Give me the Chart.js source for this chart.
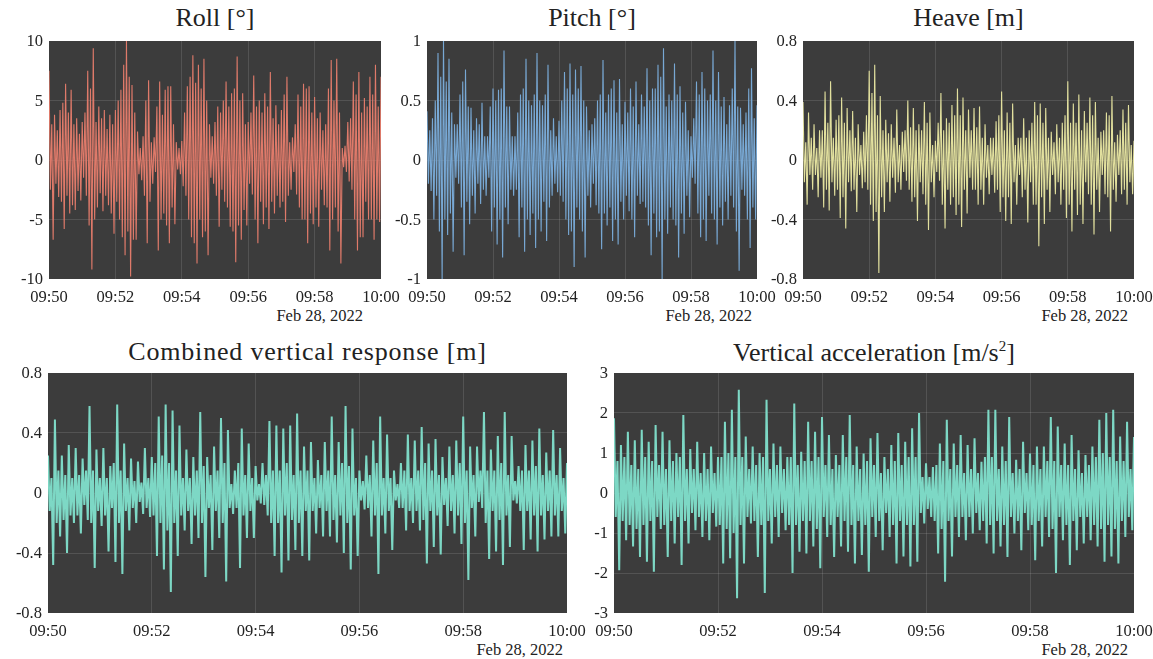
<!DOCTYPE html>
<html>
<head>
<meta charset="utf-8">
<script src="https://cdn.jsdelivr.net/npm/chart.js@4.4.0/dist/chart.umd.min.js"></script>
<style>
  html, body { margin: 0; padding: 0; background: #fff; overflow: hidden; }
  #page { position: relative; width: 1153px; height: 659px; font-family: "Liberation Serif", serif; color: #222; }
  .title { position: absolute; font-size: 26px; white-space: nowrap; transform: translateX(-50%); line-height: 1; }
  .date { position: absolute; font-size: 16.5px; white-space: nowrap; line-height: 1; transform: translateX(-100%); }
  .tick { position: absolute; font-size: 16.5px; white-space: nowrap; line-height: 1; }
  .xt { transform: translateX(-50%); }
  .yt { transform: translateX(-100%); }
  canvas { position: absolute; }
</style>
</head>
<body>
<div id="page"></div>
<script>
// time axis: seconds after 09:50, ticks every 2 minutes
const timeLabels = ['09:50', '09:52', '09:54', '09:56', '09:58', '10:00'];
const dateLabel = 'Feb 28, 2022';

// top row: one value every 2.5 s
const rollValues = [
  7.5, -2.5, 3.0, -6.7, 3.8, -2.0, 2.5, -3.1, 4.2, -3.5, 4.8, -5.8, 6.4, -3.0, 4.0, -4.5,
  5.9, -3.8, 3.0, -4.2, 3.5, -2.6, 2.2, -3.4, 3.2, -1.5, 4.0, -3.0, 7.5, -5.5, 6.0, -9.2,
  9.4, -5.0, 3.2, -4.0, 4.5, -2.8, 3.5, -4.3, 4.2, -3.0, 2.6, -3.8, 3.8, -4.5, 3.0, -6.2,
  4.2, -3.5, 5.0, -5.0, 5.9, -6.5, 8.0, -8.0, 10, -6.0, 7.0, -9.8, 6.3, -6.7, 4.0, -6.7,
  2.4, -1.2, 1.0, -1.7, 2.0, -3.0, 5.0, -7.0, 6.7, -3.5, 1.5, -2.0, 1.9, -1.0, 4.5, -7.6,
  6.6, -5.0, 3.8, -4.5, 5.9, -5.5, 6.2, -7.0, 6.2, -4.0, 3.0, -5.4, 1.5, -0.8, 1.0, -1.2,
  1.6, -2.2, 4.0, -3.0, 6.2, -5.0, 7.0, -6.5, 8.8, -7.0, 6.5, -8.7, 8.0, -5.0, 6.0, -6.5,
  8.5, -6.0, 5.0, -8.0, 3.0, -1.5, 2.0, -2.0, 3.2, -3.0, 4.5, -5.6, 4.0, -2.5, 5.0, -3.5,
  6.6, -4.0, 4.5, -5.6, 5.6, -6.0, 6.0, -8.6, 8.7, -5.5, 5.0, -6.7, 5.6, -4.2, 3.0, -5.5,
  3.2, -2.0, 4.0, -2.9, 7.1, -5.0, 4.5, -7.0, 5.0, -3.5, 4.0, -5.4, 5.6, -4.0, 4.5, -5.8,
  7.4, -3.5, 3.5, -4.5, 4.6, -3.0, 3.0, -4.0, 4.2, -3.5, 5.5, -5.2, 7.0, -3.0, 1.5, -2.5,
  1.9, -1.0, 3.0, -2.9, 5.5, -4.0, 4.5, -5.0, 6.4, -5.0, 6.0, -7.0, 6.2, -4.5, 4.0, -5.4,
  5.3, -4.0, 3.5, -5.6, 4.0, -2.5, 2.5, -3.8, 3.0, -4.0, 6.0, -7.6, 8.4, -5.0, 5.0, -4.0,
  8.5, -6.0, 4.0, -8.7, 1.0, -0.6, 1.2, -1.0, 3.2, -1.8, 3.5, -2.5, 6.6, -5.0, 5.5, -7.6,
  7.4, -6.5, 4.0, -6.5, 5.2, -3.5, 4.5, -5.0, 7.0, -5.0, 5.5, -6.7, 8.0, -5.0, 4.5, -5.2,
  7.0
];
const pitchValues = [
  0.41, -0.2, 0.25, -0.26, 0.35, -0.5, 0.5, -0.3, 0.9, -0.6, 0.7, -1.0, 1.0, -0.5, 0.66, -0.63,
  0.85, -0.45, 0.4, -0.77, 0.3, -0.15, 0.3, -0.2, 0.55, -0.4, 0.66, -0.8, 0.76, -0.35, 0.45, -0.54,
  0.44, -0.3, 0.25, -0.45, 0.35, -0.2, 0.3, -0.37, 0.48, -0.25, 0.2, -0.3, 0.2, -0.15, 0.45, -0.6,
  0.6, -0.4, 0.5, -0.71, 0.59, -0.5, 0.6, -0.82, 0.92, -0.4, 0.45, -0.54, 0.45, -0.25, 0.2, -0.3,
  0.2, -0.25, 0.4, -0.65, 0.55, -0.4, 0.6, -0.77, 0.85, -0.5, 0.5, -0.63, 0.46, -0.45, 0.55, -0.74,
  0.9, -0.5, 0.5, -0.6, 0.46, -0.35, 0.55, -0.68, 0.8, -0.4, 0.25, -0.3, 0.35, -0.2, 0.2, -0.27,
  0.33, -0.3, 0.5, -0.35, 0.74, -0.5, 0.6, -0.63, 0.81, -0.6, 0.55, -0.9, 0.76, -0.4, 0.6, -0.5,
  0.79, -0.6, 0.5, -0.82, 0.45, -0.3, 0.25, -0.4, 0.3, -0.2, 0.35, -0.38, 0.5, -0.45, 0.55, -0.75,
  0.84, -0.45, 0.4, -0.55, 0.55, -0.4, 0.6, -0.68, 0.67, -0.5, 0.4, -0.71, 0.68, -0.35, 0.3, -0.5,
  0.49, -0.3, 0.4, -0.43, 0.6, -0.5, 0.45, -0.65, 0.66, -0.3, 0.3, -0.37, 0.55, -0.35, 0.45, -0.4,
  0.77, -0.55, 0.5, -0.8, 0.6, -0.45, 0.6, -0.65, 0.8, -0.6, 0.7, -1.0, 0.94, -0.5, 0.45, -0.62,
  0.55, -0.4, 0.5, -0.5, 0.81, -0.55, 0.55, -0.82, 0.62, -0.45, 0.4, -0.62, 0.49, -0.3, 0.25, -0.48,
  0.2, -0.15, 0.35, -0.2, 0.66, -0.45, 0.55, -0.65, 0.74, -0.5, 0.6, -0.68, 0.5, -0.3, 0.55, -0.45,
  0.92, -0.5, 0.5, -0.71, 0.74, -0.4, 0.45, -0.55, 0.53, -0.35, 0.3, -0.5, 0.46, -0.3, 0.6, -0.4,
  1.0, -0.6, 0.45, -0.93, 0.44, -0.25, 0.3, -0.3, 0.4, -0.5, 0.6, -0.74, 0.77, -0.4, 0.35, -0.5,
  0.46
];
const heaveValues = [
  0.39, -0.15, 0.12, -0.3, 0.32, -0.1, 0.15, -0.2, 0.24, -0.1, 0.08, -0.25, 0.2, -0.12, 0.2, -0.32,
  0.46, -0.2, 0.25, -0.34, 0.53, -0.15, 0.15, -0.24, 0.27, -0.2, 0.3, -0.39, 0.42, -0.25, 0.25, -0.46,
  0.35, -0.15, 0.2, -0.21, 0.33, -0.2, 0.15, -0.35, 0.24, -0.1, 0.1, -0.19, 0.19, -0.15, 0.3, -0.2,
  0.6, -0.3, 0.45, -0.41, 0.64, -0.35, 0.3, -0.76, 0.43, -0.25, 0.2, -0.35, 0.27, -0.15, 0.18, -0.28,
  0.24, -0.12, 0.15, -0.22, 0.34, -0.15, 0.1, -0.2, 0.19, -0.08, 0.2, -0.14, 0.4, -0.2, 0.22, -0.28,
  0.35, -0.25, 0.2, -0.41, 0.24, -0.15, 0.2, -0.23, 0.39, -0.3, 0.25, -0.47, 0.32, -0.15, 0.1, -0.25,
  0.13, -0.08, 0.25, -0.14, 0.45, -0.3, 0.2, -0.46, 0.28, -0.2, 0.25, -0.3, 0.37, -0.25, 0.3, -0.37,
  0.48, -0.3, 0.3, -0.45, 0.42, -0.2, 0.2, -0.36, 0.34, -0.12, 0.2, -0.2, 0.35, -0.2, 0.22, -0.3,
  0.36, -0.2, 0.15, -0.3, 0.24, -0.12, 0.1, -0.23, 0.15, -0.1, 0.15, -0.22, 0.26, -0.2, 0.3, -0.35,
  0.46, -0.25, 0.2, -0.41, 0.32, -0.25, 0.25, -0.43, 0.38, -0.15, 0.1, -0.3, 0.15, -0.1, 0.15, -0.25,
  0.28, -0.2, 0.15, -0.42, 0.2, -0.15, 0.25, -0.3, 0.39, -0.3, 0.3, -0.58, 0.38, -0.25, 0.25, -0.43,
  0.35, -0.2, 0.15, -0.35, 0.19, -0.1, 0.12, -0.23, 0.24, -0.15, 0.15, -0.3, 0.25, -0.2, 0.3, -0.39,
  0.53, -0.3, 0.25, -0.48, 0.38, -0.2, 0.25, -0.37, 0.44, -0.3, 0.2, -0.43, 0.33, -0.15, 0.25, -0.23,
  0.42, -0.3, 0.3, -0.5, 0.39, -0.2, 0.15, -0.35, 0.19, -0.1, 0.2, -0.23, 0.32, -0.25, 0.3, -0.48,
  0.43, -0.2, 0.12, -0.28, 0.17, -0.1, 0.2, -0.23, 0.34, -0.2, 0.25, -0.3, 0.37, -0.15, 0.1, -0.23,
  0.13
];

// bottom row: one value every 2 s
const combinedValues = [
  0.25, -0.12, 0.1, -0.48, 0.49, -0.2, 0.15, -0.29, 0.25, -0.18, 0.12, -0.4, 0.32, -0.15, 0.1, -0.2,
  0.3, -0.15, 0.12, -0.27, 0.23, -0.08, 0.15, -0.18, 0.58, -0.2, 0.15, -0.5, 0.29, -0.12, 0.1, -0.22,
  0.3, -0.15, 0.1, -0.39, 0.18, -0.1, 0.2, -0.46, 0.59, -0.2, 0.15, -0.54, 0.33, -0.12, 0.1, -0.25,
  0.23, -0.1, 0.08, -0.2, 0.21, -0.06, 0.07, -0.14, 0.3, -0.1, 0.1, -0.16, 0.24, -0.15, 0.2, -0.42,
  0.51, -0.2, 0.25, -0.51, 0.59, -0.25, 0.2, -0.66, 0.55, -0.2, 0.15, -0.42, 0.45, -0.15, 0.1, -0.25,
  0.29, -0.12, 0.1, -0.34, 0.24, -0.15, 0.15, -0.3, 0.54, -0.2, 0.18, -0.56, 0.24, -0.1, 0.12, -0.38,
  0.31, -0.12, 0.15, -0.3, 0.5, -0.2, 0.2, -0.59, 0.42, -0.1, 0.06, -0.14, 0.15, -0.1, 0.2, -0.5,
  0.43, -0.15, 0.12, -0.3, 0.33, -0.12, 0.1, -0.3, 0.18, -0.05, 0.06, -0.07, 0.2, -0.08, 0.12, -0.15,
  0.48, -0.2, 0.15, -0.42, 0.45, -0.2, 0.15, -0.53, 0.43, -0.15, 0.2, -0.45, 0.45, -0.18, 0.12, -0.38,
  0.53, -0.2, 0.15, -0.42, 0.31, -0.12, 0.15, -0.45, 0.34, -0.12, 0.1, -0.27, 0.22, -0.1, 0.12, -0.29,
  0.34, -0.12, 0.15, -0.29, 0.51, -0.18, 0.12, -0.33, 0.34, -0.15, 0.2, -0.4, 0.58, -0.2, 0.18, -0.51,
  0.43, -0.15, 0.1, -0.42, 0.15, -0.05, 0.08, -0.11, 0.25, -0.1, 0.12, -0.29, 0.35, -0.15, 0.2, -0.54,
  0.51, -0.15, 0.1, -0.27, 0.39, -0.12, 0.1, -0.38, 0.15, -0.05, 0.06, -0.1, 0.2, -0.1, 0.15, -0.25,
  0.39, -0.12, 0.1, -0.2, 0.35, -0.12, 0.15, -0.25, 0.44, -0.18, 0.2, -0.47, 0.33, -0.12, 0.15, -0.36,
  0.36, -0.15, 0.12, -0.41, 0.24, -0.08, 0.1, -0.22, 0.31, -0.12, 0.12, -0.27, 0.35, -0.15, 0.2, -0.34,
  0.51, -0.2, 0.15, -0.58, 0.31, -0.1, 0.12, -0.29, 0.31, -0.06, 0.15, -0.1, 0.54, -0.2, 0.15, -0.44,
  0.29, -0.12, 0.15, -0.39, 0.38, -0.18, 0.2, -0.48, 0.54, -0.15, 0.12, -0.36, 0.38, -0.05, 0.08, -0.07,
  0.18, -0.12, 0.15, -0.38, 0.32, -0.12, 0.15, -0.31, 0.35, -0.15, 0.18, -0.39, 0.43, -0.15, 0.12, -0.31,
  0.27, -0.12, 0.15, -0.29, 0.42, -0.15, 0.12, -0.29, 0.3, -0.12, 0.1, -0.27, 0.2
];
const accelValues = [
  1.87, -0.6, 0.8, -1.93, 1.2, -0.7, 0.9, -1.18, 1.53, -0.8, 0.7, -1.34, 1.32, -0.9, 0.6, -1.6,
  1.58, -0.8, 0.9, -1.72, 1.28, -0.7, 0.8, -1.97, 1.7, -0.6, 0.7, -0.9, 1.53, -0.8, 0.6, -1.6,
  1.32, -0.7, 0.8, -1.26, 1.0, -0.6, 0.9, -1.8, 1.95, -0.7, 0.6, -1.26, 1.1, -0.5, 0.6, -0.93,
  1.28, -0.6, 0.5, -1.1, 1.0, -0.7, 0.6, -1.18, 1.16, -0.5, 0.5, -0.84, 0.9, -0.8, 0.9, -1.76,
  1.78, -0.9, 1.0, -1.63, 2.08, -1.0, 0.9, -2.63, 2.58, -0.8, 0.9, -1.76, 1.41, -0.6, 0.6, -0.76,
  1.16, -0.7, 0.7, -1.6, 1.0, -0.8, 0.9, -2.5, 2.33, -0.7, 0.6, -1.26, 1.24, -0.6, 0.7, -1.1,
  1.16, -0.5, 0.6, -0.93, 0.9, -0.8, 0.9, -2.0, 2.24, -0.8, 0.7, -1.47, 1.03, -0.7, 0.8, -1.51,
  1.78, -0.7, 0.8, -1.34, 1.53, -0.9, 0.9, -1.88, 1.9, -0.6, 0.7, -1.1, 1.45, -0.8, 0.6, -1.6,
  0.95, -0.6, 0.7, -1.34, 1.45, -0.7, 0.9, -1.47, 1.95, -0.8, 0.7, -1.76, 1.16, -0.7, 0.6, -1.55,
  0.99, -0.8, 0.8, -1.97, 1.37, -0.6, 0.7, -1.1, 1.5, -0.7, 0.5, -1.43, 0.9, -0.5, 0.6, -1.1,
  1.2, -0.8, 0.8, -1.76, 1.5, -0.7, 0.7, -1.59, 1.28, -0.8, 0.9, -1.84, 1.62, -0.8, 0.9, -1.72,
  2.0, -0.5, 0.4, -0.76, 0.74, -0.4, 0.4, -0.6, 0.65, -0.7, 0.7, -1.51, 1.24, -0.9, 0.8, -2.22,
  1.83, -0.7, 0.6, -1.59, 1.24, -0.6, 0.7, -1.1, 1.45, -0.6, 0.5, -1.18, 1.2, -0.6, 0.6, -1.01,
  1.37, -0.5, 0.5, -0.93, 0.78, -0.7, 0.9, -1.26, 2.08, -0.8, 0.9, -1.51, 2.08, -0.7, 0.6, -1.34,
  1.16, -0.8, 0.8, -1.6, 1.9, -0.6, 0.5, -1.01, 0.83, -0.7, 0.6, -1.43, 1.28, -0.5, 0.5, -0.93,
  0.99, -0.8, 0.7, -1.68, 1.16, -0.7, 0.6, -1.34, 1.16, -0.6, 0.8, -1.1, 1.9, -0.9, 0.8, -2.0,
  1.66, -0.6, 0.7, -1.18, 1.24, -0.8, 0.7, -1.8, 1.45, -0.7, 0.6, -1.43, 1.07, -0.6, 0.5, -1.26,
  0.95, -0.6, 0.7, -1.18, 1.16, -0.8, 0.9, -1.34, 1.83, -0.9, 1.0, -1.72, 2.0, -0.8, 0.9, -1.59,
  2.08, -0.9, 0.8, -1.76, 1.41, -0.7, 0.8, -1.1, 1.78, -0.6, 0.6, -0.93, 1.4
];

const panels = [
  { title: 'Roll [°]', values: rollValues, dt: 2.5, color: '#df7a6a', lw: 1.1,
    min: -10, max: 10, step: 5, box: [49, 41, 381, 279], dateRight: 363, dateTop: 308, titleTop: 5, spacing: 0 },
  { title: 'Pitch [°]', values: pitchValues, dt: 2.5, color: '#78a8d4', lw: 1.1,
    min: -1, max: 1, step: 0.5, box: [427, 41, 757, 279], dateRight: 752, dateTop: 308, titleTop: 5, spacing: 0 },
  { title: 'Heave [m]', values: heaveValues, dt: 2.5, color: '#e2e09e', lw: 1.1,
    min: -0.8, max: 0.8, step: 0.4, box: [803, 41, 1134, 279], dateRight: 1128, dateTop: 308, titleTop: 5, spacing: 0 },
  { title: 'Combined vertical response [m]', values: combinedValues, dt: 2, color: '#7dd8c5', lw: 2,
    min: -0.8, max: 0.8, step: 0.4, box: [48, 373, 567, 613], dateRight: 563, dateTop: 642, titleTop: 339, spacing: 0.8 },
  { title: 'Vertical acceleration [m/s<sup style="font-size:15px">2</sup>]', values: accelValues, dt: 2, color: '#7dd8c5', lw: 2,
    min: -3, max: 3, step: 1, box: [614, 373, 1134, 613], dateRight: 1128, dateTop: 642, titleTop: 339, spacing: 0 }
];

const plotBg = {
  id: 'plotBg',
  beforeDraw(chart) {
    const { ctx, chartArea: a } = chart;
    ctx.save();
    ctx.fillStyle = '#3c3c3c';
    ctx.fillRect(a.left, a.top, a.right - a.left, a.bottom - a.top);
    ctx.restore();
  }
};

const fmt = v => {
  const r = Math.round(v * 100) / 100;
  return String(r === 0 ? 0 : r);
};

const AXW = 48, PADT = 12, PADR = 24, AXH = 34;
const page = document.getElementById('page');
const gridColor = 'rgba(255,255,255,0.12)';

// tick labels are put in the page as text, at the positions the chart's scales give
function addTickLabels(chart, cLeft, cTop) {
  const xs = chart.scales.x, ys = chart.scales.y, a = chart.chartArea;
  xs.ticks.forEach(tk => {
    const el = document.createElement('div');
    el.className = 'tick xt';
    el.textContent = timeLabels[Math.round(tk.value / 120)];
    el.style.left = (cLeft + xs.getPixelForValue(tk.value)) + 'px';
    el.style.top = (cTop + a.bottom + 9.5) + 'px';
    page.appendChild(el);
  });
  ys.ticks.forEach(tk => {
    const el = document.createElement('div');
    el.className = 'tick yt';
    el.textContent = fmt(tk.value);
    el.style.left = (cLeft + a.left - 6) + 'px';
    el.style.top = (cTop + ys.getPixelForValue(tk.value) - 8) + 'px';
    page.appendChild(el);
  });
}

panels.forEach(p => {
  const [L, T, R, B] = p.box;

  const t = document.createElement('div');
  t.className = 'title';
  t.innerHTML = p.title;
  t.style.left = ((L + R) / 2) + 'px';
  t.style.top = p.titleTop + 'px';
  t.style.letterSpacing = p.spacing + 'px';
  page.appendChild(t);

  const d = document.createElement('div');
  d.className = 'date';
  d.textContent = dateLabel;
  d.style.left = p.dateRight + 'px';
  d.style.top = p.dateTop + 'px';
  page.appendChild(d);

  const cLeft = L - AXW, cTop = T - PADT;
  const c = document.createElement('canvas');
  c.width = (R - L) + AXW + PADR;
  c.height = (B - T) + PADT + AXH;
  c.style.left = cLeft + 'px';
  c.style.top = cTop + 'px';
  page.appendChild(c);

  const pts = p.values.map((v, i) => ({ x: i * p.dt, y: v }));

  const chart = new Chart(c.getContext('2d'), {
    type: 'line',
    data: {
      datasets: [{
        data: pts,
        borderColor: p.color,
        borderWidth: p.lw,
        pointRadius: 0,
        tension: 0
      }]
    },
    options: {
      responsive: false,
      animation: false,
      layout: { padding: { left: 0, top: PADT, right: PADR, bottom: 0 } },
      plugins: { legend: { display: false }, tooltip: { enabled: false } },
      scales: {
        x: {
          type: 'linear',
          min: 0,
          max: 600,
          afterFit: s => { s.height = AXH; },
          border: { display: false },
          grid: {
            drawTicks: false,
            color: ctx => (ctx.tick && (ctx.tick.value === 0 || ctx.tick.value === 600)) ? 'transparent' : gridColor
          },
          ticks: { stepSize: 120, display: false }
        },
        y: {
          min: p.min,
          max: p.max,
          afterFit: s => { s.width = AXW; },
          border: { display: false },
          grid: {
            drawTicks: false,
            color: ctx => (ctx.tick && (Math.abs(ctx.tick.value - p.min) < 1e-9 || Math.abs(ctx.tick.value - p.max) < 1e-9)) ? 'transparent' : gridColor
          },
          ticks: { stepSize: p.step, display: false }
        }
      }
    },
    plugins: [plotBg]
  });

  addTickLabels(chart, cLeft, cTop);
});
</script>
</body>
</html>
